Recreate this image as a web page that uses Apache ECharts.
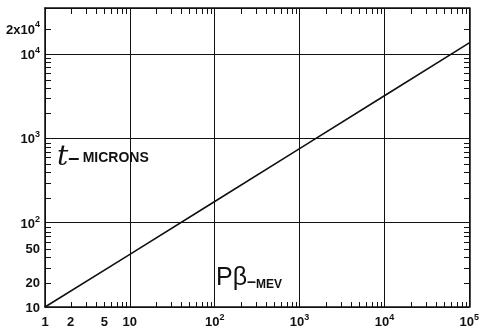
<!DOCTYPE html>
<html>
<head>
<meta charset="utf-8">
<script src="https://cdn.jsdelivr.net/npm/echarts@6/dist/echarts.min.js"></script>
<style>
html,body{margin:0;padding:0;background:#fff}
#c,#t{position:absolute;left:0;top:0;width:482px;height:329px}
#t{pointer-events:none}
</style>
</head>
<body>
<div id="c"></div>
<div id="t"></div>
<script>
// Data (log-log): P-beta in MeV vs thickness t in microns
var pBeta = [1, 10, 100, 1000, 10000, 100000];
var tMicrons = [10, 42, 178, 755, 3190, 13500];

// Tick labels
var xLabelValues = [1, 2, 5, 10, 100, 1000, 10000, 100000];
var yLabelValues = [10, 20, 50, 100, 1000, 10000, 20000];

// Minor tick values
var xMinorTicks = [];
[1, 10, 100, 1000, 10000].forEach(function (d) {
  for (var k = 2; k <= 9; k++) xMinorTicks.push(k * d);
});
var yMinorTicks = [];
[10, 100, 1000].forEach(function (d) {
  for (var k = 2; k <= 9; k++) yMinorTicks.push(k * d);
});
yMinorTicks.push(20000);

var X_MIN = 1, X_MAX = 100000, Y_MIN = 10, Y_MAX = 35000;
var GRID = { left: 45, right: 12, top: 8, bottom: 21 };
var lineC = '#111';
var TICK = 6;

// ---------- overlay instance: minor ticks on all four frame sides ----------
function tickLine(x1, y1, x2, y2) {
  return { type: 'line', shape: { x1: x1, y1: y1, x2: x2, y2: y2 }, style: { stroke: lineC, lineWidth: 1 } };
}
function renderXTicks(params, api) {
  var v = api.value(0);
  var b = api.coord([v, Y_MIN]);
  var t = api.coord([v, Y_MAX]);
  var x = Math.round(b[0]) + 0.5;
  return { type: 'group', children: [tickLine(x, b[1], x, b[1] - TICK), tickLine(x, t[1], x, t[1] + TICK)] };
}
function renderYTicks(params, api) {
  var v = api.value(1);
  var l = api.coord([X_MIN, v]);
  var r = api.coord([X_MAX, v]);
  var y = Math.round(l[1]) + 0.5;
  return { type: 'group', children: [tickLine(l[0], y, l[0] + TICK, y), tickLine(r[0], y, r[0] - TICK, y)] };
}
try {
  var tickChart = echarts.init(document.getElementById('t'));
  tickChart.setOption({
    animation: false,
    grid: { left: GRID.left, right: GRID.right, top: GRID.top, bottom: GRID.bottom },
    xAxis: { type: 'log', min: X_MIN, max: X_MAX, axisLine: { show: false }, axisTick: { show: false }, axisLabel: { show: false }, splitLine: { show: false } },
    yAxis: { type: 'log', min: Y_MIN, max: Y_MAX, axisLine: { show: false }, axisTick: { show: false }, axisLabel: { show: false }, splitLine: { show: false } },
    series: [
      { type: 'custom', clip: false, encode: { x: 0, y: 1 }, data: xMinorTicks.map(function (v) { return [v, Y_MIN]; }), renderItem: renderXTicks },
      { type: 'custom', clip: false, encode: { x: 0, y: 1 }, data: yMinorTicks.map(function (v) { return [X_MIN, v]; }), renderItem: renderYTicks }
    ]
  });
} catch (e) {}

// ---------- main instance ----------
var FONT = 'Liberation Sans';
var rich = {
  b: { fontFamily: FONT, fontWeight: 'bold', fontSize: 13, color: '#111', lineHeight: 16, verticalAlign: 'bottom' },
  s: { fontFamily: FONT, fontWeight: 'bold', fontSize: 9, color: '#111', lineHeight: 10, verticalAlign: 'top' }
};
function fmt(v) {
  var e = Math.round(Math.log10(v));
  var p = Math.pow(10, e);
  if (Math.abs(v - p) / p < 1e-6) {
    if (e <= 1) return '{b|' + Math.round(v) + '}';
    return '{b|10}{s|' + e + '}';
  }
  var r = Math.round(v);
  if (r >= 10000) return '{b|' + Math.round(r / 10000) + 'x10}{s|4}';
  return '{b|' + r + '}';
}
function logAxis(pos, min, max, labels, margin, split) {
  return {
    type: 'log', logBase: 10, min: min, max: max, position: pos,
    axisLine: { show: true, onZero: false, lineStyle: { color: lineC, width: 1.5 } },
    axisTick: { show: false },
    axisLabel: labels ? { show: true, customValues: labels, margin: margin, formatter: fmt, rich: rich } : { show: false },
    splitLine: { show: !!split, lineStyle: { color: lineC, width: 1 } }
  };
}
try {
  var chart = echarts.init(document.getElementById('c'));
  chart.setOption({
    animation: false,
    backgroundColor: '#fff',
    grid: { left: GRID.left, right: GRID.right, top: GRID.top, bottom: GRID.bottom },
    xAxis: [
      logAxis('bottom', X_MIN, X_MAX, xLabelValues, 6, true),
      logAxis('top', X_MIN, X_MAX, null, 0, false)
    ],
    yAxis: [
      logAxis('left', Y_MIN, Y_MAX, yLabelValues, 5, true),
      logAxis('right', Y_MIN, Y_MAX, null, 0, false)
    ],
    series: [{
      type: 'line',
      data: pBeta.map(function (x, i) { return [x, tMicrons[i]]; }),
      showSymbol: false,
      lineStyle: { color: lineC, width: 1.6 }
    }],
    graphic: [{
      type: 'text', left: 57, top: 144,
      style: {
        text: '{t|t}{d|\u2013} {m|MICRONS}',
        rich: {
          t: { fontFamily: 'DejaVu Serif', fontStyle: 'italic', fontSize: 28, fill: '#111', lineHeight: 28, verticalAlign: 'middle' },
          d: { fontFamily: FONT, fontWeight: 'bold', fontSize: 20, fill: '#111', lineHeight: 28, verticalAlign: 'middle' },
          m: { fontFamily: FONT, fontWeight: 'bold', fontSize: 14, fill: '#111', lineHeight: 28, verticalAlign: 'middle' }
        }
      }
    }, {
      type: 'text', left: 216, top: 266,
      style: {
        text: '{p|P\u03b2}{d|\u2013}{m|MEV}',
        rich: {
          p: { fontFamily: FONT, fontSize: 25, fill: '#111', lineHeight: 24, verticalAlign: 'bottom' },
          d: { fontFamily: FONT, fontWeight: 'bold', fontSize: 16, fill: '#111', lineHeight: 19, verticalAlign: 'bottom' },
          m: { fontFamily: FONT, fontWeight: 'bold', fontSize: 12, fill: '#111', lineHeight: 13, verticalAlign: 'bottom' }
        }
      }
    }]
  });
} catch (e) {}
</script>
</body>
</html>
